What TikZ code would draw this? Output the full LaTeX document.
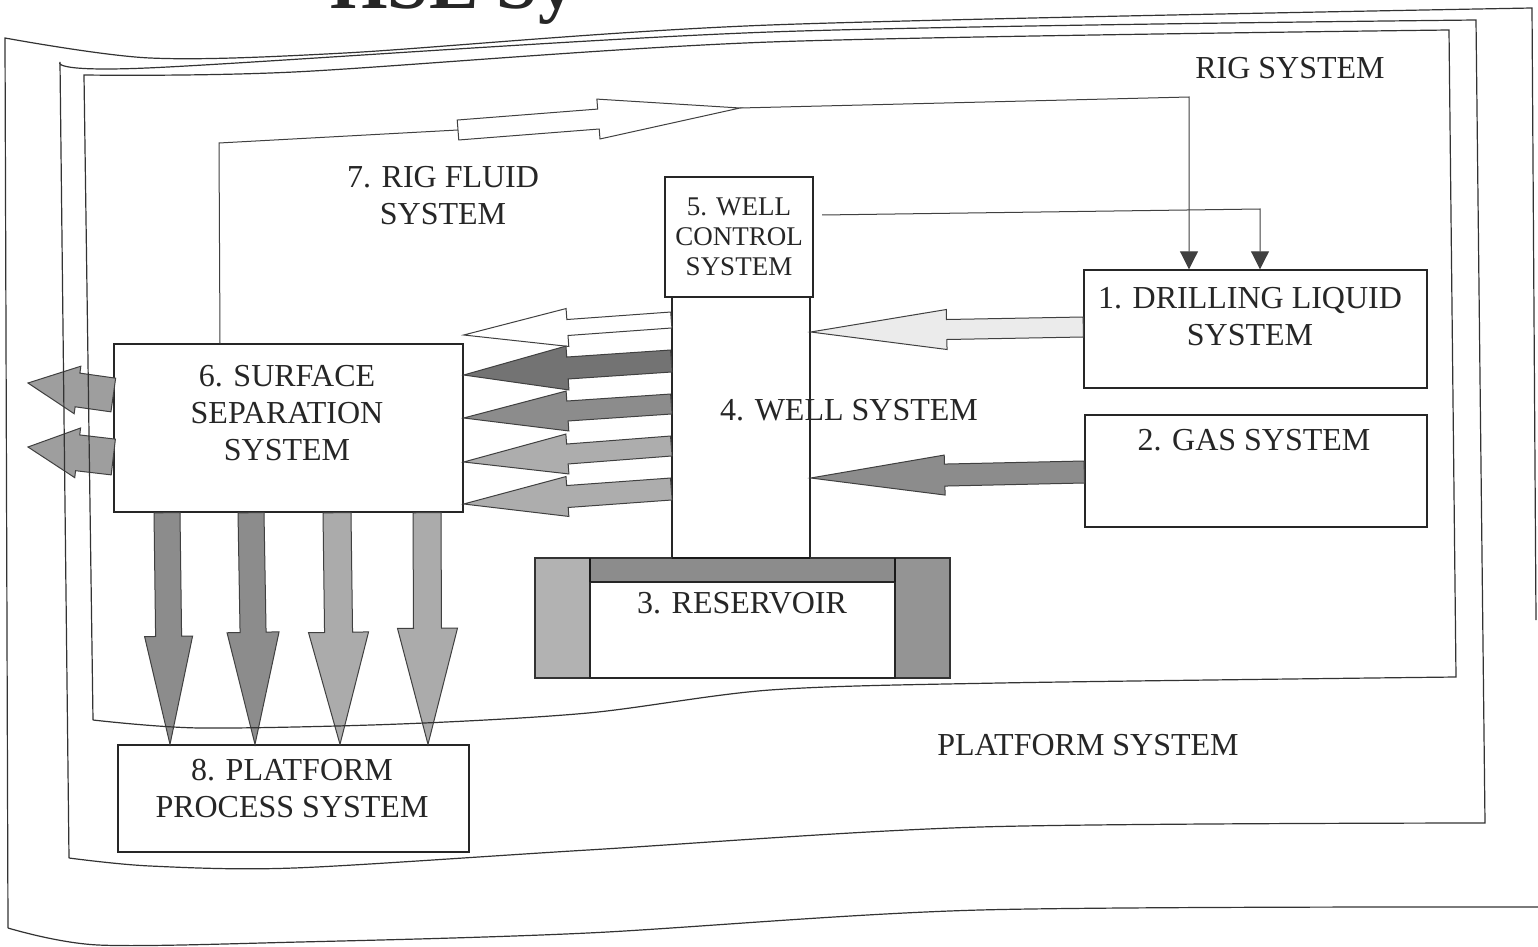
\documentclass[tikz,border=0pt]{standalone}
\usepackage{fontspec}
\setmainfont{Liberation Serif}
\usetikzlibrary{calc,fit,arrows.meta}
\newcommand{\fatarr}[6]{%
  \coordinate (fa-h) at ($(#2)!#5!(#1)$);
  \filldraw[#6] ($(#1)!#3!90:(#2)$) -- ($(fa-h)!#3!90:(#2)$) -- ($(fa-h)!#4!90:(#2)$) -- (#2)
    -- ($(fa-h)!#4!-90:(#2)$) -- ($(fa-h)!#3!-90:(#2)$) -- ($(#1)!#3!-90:(#2)$) -- cycle;}
\begin{document}
\begin{tikzpicture}[x=0.5pt,y=-0.5pt,
  frame/.style={draw=black!80,line width=0.6pt},
  box/.style={draw=black!85,line width=0.7pt,fill=white,inner sep=0pt},
  lbl/.style={font=\fontsize{16}{18.5}\selectfont,align=center,text=black!85,inner sep=0pt},
  lblsmall/.style={font=\fontsize{13.5}{15}\selectfont,align=center,text=black!85,inner sep=0pt},
  conn/.style={draw=black!75,line width=0.5pt},
  tip/.style={-{Triangle[width=9pt,length=9pt]}},
  fa/.style={draw=black!75,line width=0.5pt,fill=#1},
]
\useasboundingbox (0,0) rectangle (1538,947);
\begin{scope}
\clip (0,0) rectangle (1538,947);
\fill[white] (0,0) rectangle (1538,947);
\node[anchor=base west,font=\bfseries\fontsize{37}{40}\selectfont,text=black!85,inner sep=0pt] (title) at (330,9) {HSE Sy};

% boxes
\node[box,fit={(114,344) (463,512)}] (s6) {};
\node[lbl] (s6t) at (287,413) {6. SURFACE\\SEPARATION\\SYSTEM};
\node[box,fit={(672,297) (810,558)}] (b4) {};
\node[box,fit={(665,177) (813,297)}] (b5) {};
\node[lblsmall] (b5t) at (b5.center) {5. WELL\\CONTROL\\SYSTEM};
\node[box,fit={(1084,270) (1427,388)}] (b1) {};
\node[lbl] (b1t) at (1250,317) {1. DRILLING LIQUID\\SYSTEM};
\node[box,fit={(1085,415) (1427,527)}] (b2) {};
\node[lbl] (b2t) at (1254,440) {2. GAS SYSTEM};
\node[box,fit={(118,745) (469,852)}] (b8) {};
\node[lbl] (b8t) at (292,789) {8. PLATFORM\\PROCESS SYSTEM};

% reservoir
\fill[black!30] (535,558) rectangle (590,678);
\fill[black!42] (895,558) rectangle (950,678);
\fill[black!45] (590,558) rectangle (895,582);
\draw[black!80,line width=0.6pt] (535,558) rectangle (950,678);
\node[box,fit={(590,582) (895,678)}] (res) {};
\draw[black!90,line width=1.4pt] (590,558) -- (590,582) (895,558) -- (895,582);
\draw[black!90,line width=1pt] (672,558) -- (810,558);
\node[lbl] (rest) at (742,603) {3. RESERVOIR};

% free labels
\node[lbl] (b4t) at (849,410) {4. WELL SYSTEM};
\node[lbl] (rigt) at (1290,68) {RIG SYSTEM};
\node[lbl] (platt) at (1088,745) {PLATFORM SYSTEM};
\node[lbl] (b7t) at (443,196) {7. RIG FLUID\\SYSTEM};

% rig fluid connector
\coordinate (rfa) at (458,130);
\coordinate (rfb) at (740,108);
\draw[conn] (s6.north -| 220,0) -- (219,143) -- (rfa);
\fatarr{rfa}{rfb}{5pt}{10pt}{71pt}{fa=white}
\draw[conn,tip] (rfb) -- (1189,97) -- (b1.north -| 1189,0);
\coordinate (c5) at (822,215);
\draw[conn,tip] (c5) -- (1260,209) -- (b1.north -| 1260,0);

% arrows well -> surface separation
\coordinate (r1a) at (b4.west |- 0,320); \coordinate (r1b) at (s6.east |- 0,335);
\coordinate (r2a) at (b4.west |- 0,361); \coordinate (r2b) at (s6.east |- 0,375);
\coordinate (r3a) at (b4.west |- 0,404); \coordinate (r3b) at (s6.east |- 0,418);
\coordinate (r4a) at (b4.west |- 0,446); \coordinate (r4b) at (s6.east |- 0,462);
\coordinate (r5a) at (b4.west |- 0,489); \coordinate (r5b) at (s6.east |- 0,504);
\fatarr{r1a}{r1b}{4pt}{9.5pt}{52pt}{fa=white}
\fatarr{r2a}{r2b}{5.5pt}{11pt}{52pt}{fa=black!55}
\fatarr{r3a}{r3b}{5pt}{10pt}{52pt}{fa=black!45}
\fatarr{r4a}{r4b}{5pt}{10pt}{52pt}{fa=black!32}
\fatarr{r5a}{r5b}{5.5pt}{10pt}{52pt}{fa=black!32}

% arrows into well
\coordinate (d1a) at (b1.west |- 0,327); \coordinate (d1b) at (b4.east |- 0,332);
\coordinate (g1a) at (b2.west |- 0,472); \coordinate (g1b) at (b4.east |- 0,478);
\fatarr{d1a}{d1b}{5pt}{10pt}{68pt}{fa=black!8}
\fatarr{g1a}{g1b}{5.5pt}{10pt}{67pt}{fa=black!45}

% left arrows out of surface separation
\coordinate (la1) at (s6.west |- 0,395); \coordinate (lb1) at (28,383);
\coordinate (la2) at (s6.west |- 0,457); \coordinate (lb2) at (28,447);
\fatarr{la1}{lb1}{8.5pt}{12pt}{25pt}{fa=black!38}
\fatarr{la2}{lb2}{9pt}{12.5pt}{25pt}{fa=black!38}

% down arrows to platform process
\coordinate (da1) at (s6.south -| 167,0); \coordinate (db1) at (b8.north -| 170,0);
\coordinate (da2) at (s6.south -| 251,0); \coordinate (db2) at (b8.north -| 255,0);
\coordinate (da3) at (s6.south -| 337,0); \coordinate (db3) at (b8.north -| 340,0);
\coordinate (da4) at (s6.south -| 427,0); \coordinate (db4) at (b8.north -| 428,0);
\fatarr{da1}{db1}{6.5pt}{12pt}{54pt}{fa=black!45}
\fatarr{da2}{db2}{6.5pt}{13pt}{56pt}{fa=black!45}
\fatarr{da3}{db3}{7pt}{15pt}{56pt}{fa=black!33}
\fatarr{da4}{db4}{7pt}{15pt}{58pt}{fa=black!33}

% frames
\draw[frame] (8,928) -- (5,38) -- plot[smooth] coordinates {(5,38) (150,58) (345,53) (770,25) (1532,8)} -- (1536,620);
\draw[frame] plot[smooth] coordinates {(8,928) (98,945) (300,942) (588,933) (980,910) (1538,907)};
\draw[frame] (69,858) -- (60,62) -- plot[smooth] coordinates {(60,62) (147,68) (770,32) (1476,20)} -- (1485,823)
  -- plot[smooth] coordinates {(1485,823) (980,827) (588,850) (294,868) (150,866) (69,858)};
\draw[frame] (93,720) -- (84,75) -- plot[smooth] coordinates {(84,75) (294,72) (770,42) (1449,30)} -- (1456,677)
  -- plot[smooth] coordinates {(1456,677) (1000,683) (770,690) (588,713) (400,724) (200,728) (93,720)};
\end{scope}
\end{tikzpicture}
\end{document}
